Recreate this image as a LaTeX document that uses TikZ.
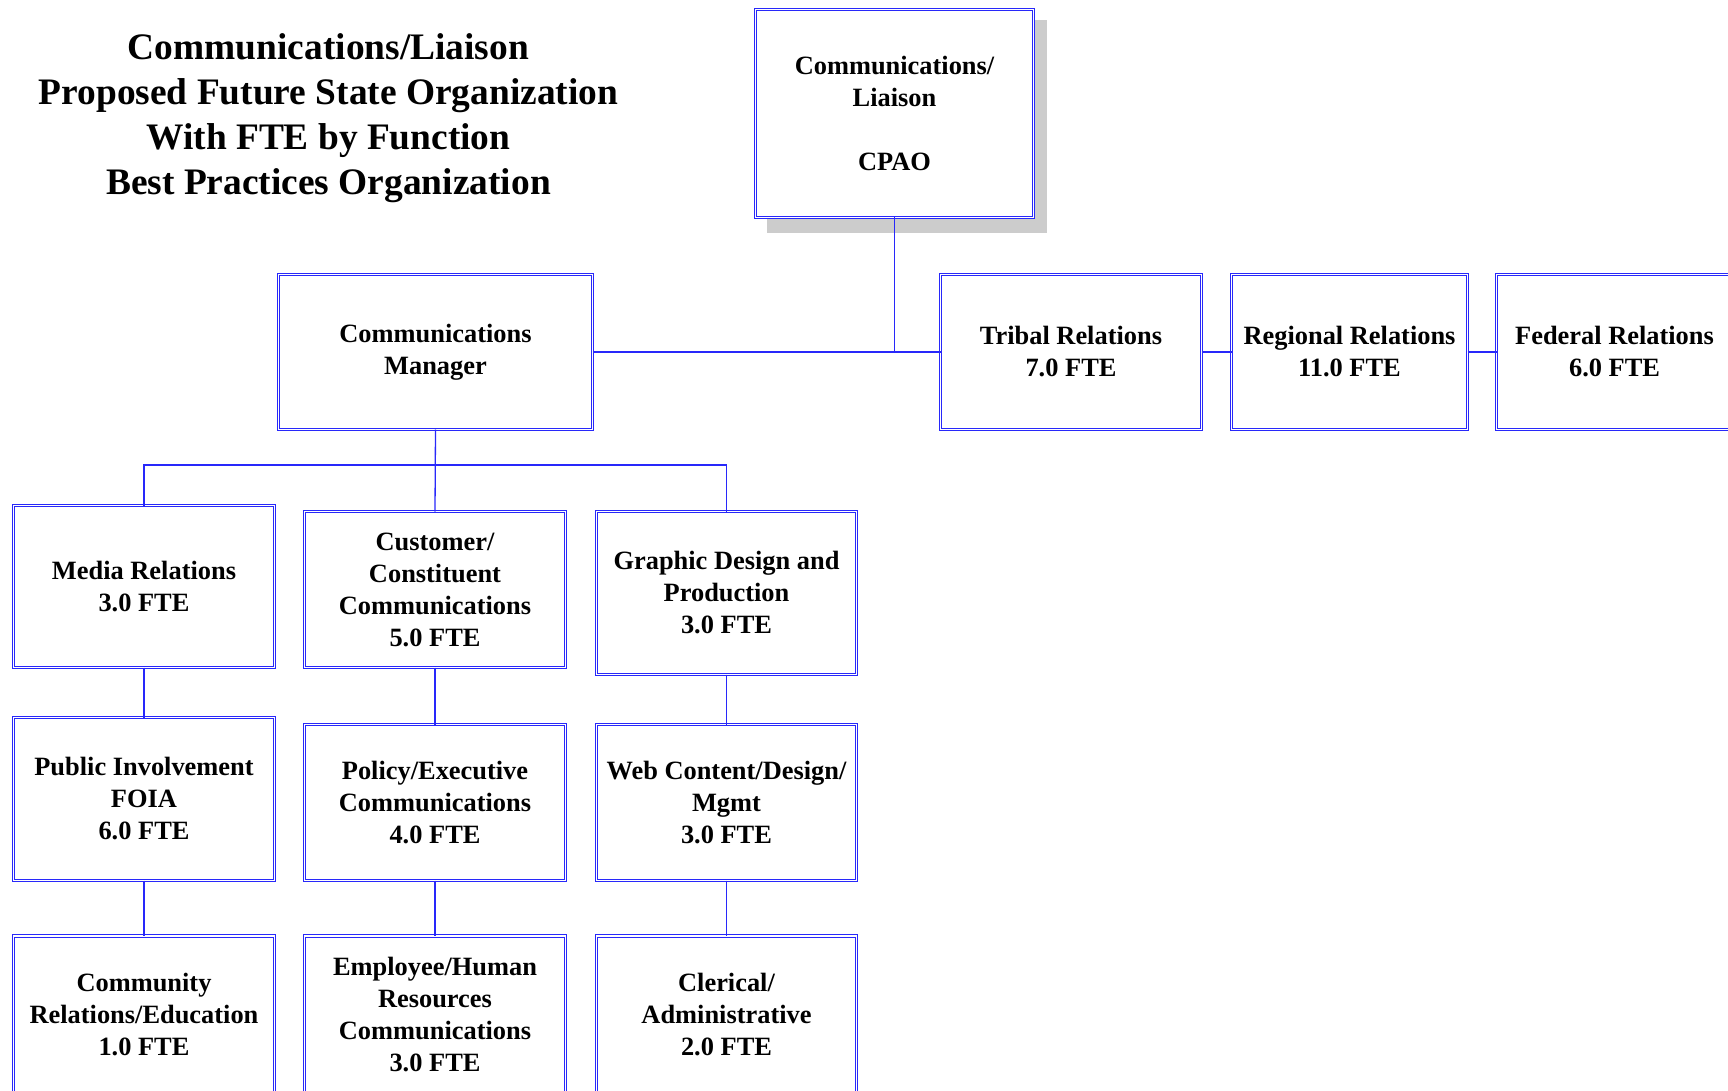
\documentclass[tikz,border=0pt]{standalone}
\usepackage{fontspec}
\setmainfont{Liberation Serif}
\definecolor{lineblue}{RGB}{40,40,250}
\definecolor{shadowgray}{RGB}{204,204,204}
\begin{document}
\begin{tikzpicture}[x=1pt,y=-1pt,
  orgbox/.style={draw=lineblue, line width=0.9pt, double=white, double distance=1.8pt,
    fill=white, rectangle, outer sep=0pt, inner sep=2pt, align=center,
    font=\bfseries\fontsize{26.4}{32}\selectfont},
  conn/.style={draw=lineblue, line width=1.3pt}]
\useasboundingbox (0,0) rectangle (1728,1091);
% title
\node[align=center, font=\bfseries\fontsize{37.4}{45}\selectfont] (title) at (328.5,118.5)
  {Communications/Liaison\\Proposed Future State Organization\\With FTE by Function\\Best Practices Organization};
% shadow
\fill[shadowgray] (767,20) rectangle (1047,233);
% top
\node[orgbox, minimum width=278, minimum height=208] (cpao) at (894.5,113.5)
  {Communications/\\Liaison\\[32pt]CPAO};
\node[orgbox, minimum width=314, minimum height=155] (mgr) at (435.5,352) {Communications\\Manager};
\node[orgbox, minimum width=261, minimum height=155] (tribal) at (1071,352) {Tribal Relations\\7.0 FTE};
\node[orgbox, minimum width=236, minimum height=155] (regional) at (1349.5,352) {Regional Relations\\11.0 FTE};
\node[orgbox, minimum width=236, minimum height=155] (federal) at (1614.5,352) {Federal Relations\\6.0 FTE};
% row 2
\node[orgbox, minimum width=261, minimum height=162] (media) at (144,586.5) {Media Relations\\3.0 FTE};
\node[orgbox, minimum width=261, minimum height=156] (customer) at (435,589.5) {Customer/\\Constituent\\Communications\\5.0 FTE};
\node[orgbox, minimum width=260, minimum height=163] (graphic) at (726.5,593) {Graphic Design and\\Production\\3.0 FTE};
% row 3
\node[orgbox, minimum width=261, minimum height=163] (public) at (144,799) {Public Involvement\\FOIA\\6.0 FTE};
\node[orgbox, minimum width=261, minimum height=156] (policy) at (435,802.5) {Policy/Executive\\Communications\\4.0 FTE};
\node[orgbox, minimum width=260, minimum height=156] (web) at (726.5,802.5) {Web Content/Design/\\Mgmt\\3.0 FTE};
% row 4
\node[orgbox, minimum width=261, minimum height=158] (community) at (144,1015) {Community\\Relations/Education\\1.0 FTE};
\node[orgbox, minimum width=261, minimum height=158] (employee) at (435,1015) {Employee/Human\\Resources\\Communications\\3.0 FTE};
\node[orgbox, minimum width=260, minimum height=158] (clerical) at (726.5,1015) {Clerical/\\Administrative\\2.0 FTE};
% connectors
\coordinate (busy) at (0,465);
\draw[conn] (cpao.south) -- (cpao.south |- mgr.east);
\draw[conn] (mgr.east) -- (tribal.west);
\draw[conn] (tribal.east) -- (regional.west);
\draw[conn] (regional.east) -- (federal.west);
\draw[conn] (mgr.south) -- (customer.north);
\draw[conn] (media.north) |- (graphic.north |- busy) -- (graphic.north);
\draw[conn] (media.south) -- (public.north);
\draw[conn] (customer.south) -- (policy.north);
\draw[conn] (graphic.south) -- (web.north);
\draw[conn] (public.south) -- (community.north);
\draw[conn] (policy.south) -- (employee.north);
\draw[conn] (web.south) -- (clerical.north);
\end{tikzpicture}
\end{document}
